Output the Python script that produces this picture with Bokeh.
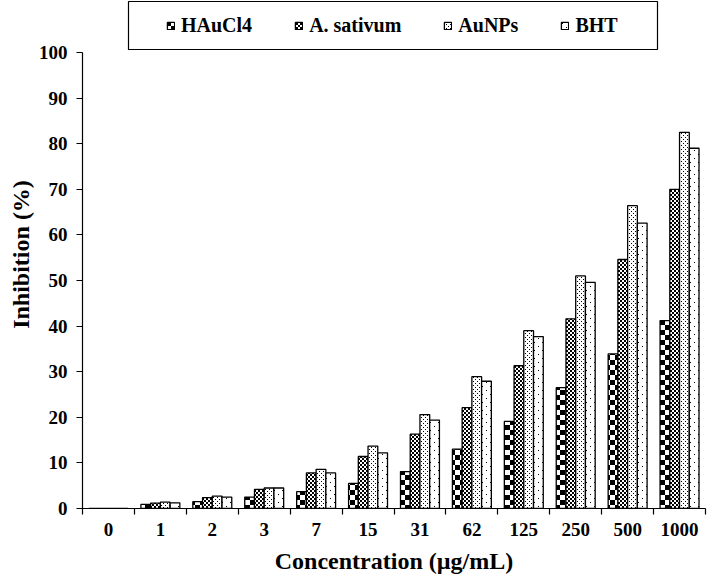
import zlib
import struct
import base64
import numpy as np
from bokeh.plotting import figure
from bokeh.models import (Range1d, FixedTicker, LinearAxis, Legend, LegendItem,
                          ImageURLTexture, BoxAnnotation)
from bokeh.core.properties import value
from bokeh.embed import file_html
from bokeh.resources import INLINE

# ---- data ----
concentrations = ["0", "1", "2", "3", "7", "15", "31", "62", "125", "250", "500", "1000"]
series_names = ["HAuCl4", "A. sativum", "AuNPs", "BHT"]
haucl4 = [0, 0.9, 1.5, 2.5, 3.7, 5.5, 8.1, 13.0, 19.1, 26.5, 33.9, 41.2]
a_sativum = [0, 1.2, 2.4, 4.2, 7.8, 11.4, 16.3, 22.1, 31.3, 41.6, 54.6, 70.0]
aunps = [0, 1.4, 2.7, 4.5, 8.6, 13.7, 20.6, 28.9, 39.0, 51.0, 66.4, 82.5]
bht = [0, 1.25, 2.5, 4.5, 7.8, 12.2, 19.4, 27.9, 37.7, 49.6, 62.6, 79.0]
y_ticks = [0, 10, 20, 30, 40, 50, 60, 70, 80, 90, 100]

series_values = [haucl4, a_sativum, aunps, bht]

FONT = "Liberation Serif"


# ---- fill textures (small PNG tiles) ----
def png_tile(size, black):
    raw = b""
    for y in range(size):
        row = bytearray([0])
        for x in range(size):
            row += bytes([0, 0, 0, 255]) if black(x, y) else bytes([255, 255, 255, 0])
        raw += bytes(row)

    def chunk(tag, data):
        return (struct.pack(">I", len(data)) + tag + data +
                struct.pack(">I", zlib.crc32(tag + data) & 0xffffffff))

    png = (b"\x89PNG\r\n\x1a\n" +
           chunk(b"IHDR", struct.pack(">IIBBBBB", size, size, 8, 6, 0, 0, 0)) +
           chunk(b"IDAT", zlib.compress(raw)) + chunk(b"IEND", b""))
    return "data:image/png;base64," + base64.b64encode(png).decode()


tiles = {
    "chkbig": png_tile(10, lambda x, y: (x < 5) == (y < 5)),
    "chksmall": png_tile(4, lambda x, y: (x < 2) == (y < 2)),
    "dotdense": png_tile(4, lambda x, y: (x, y) in ((1, 1), (3, 3))),
    "dotsparse": png_tile(8, lambda x, y: (x, y) in ((2, 2), (6, 6))),
}
pattern_names = ["chkbig", "chksmall", "dotdense", "dotsparse"]

Y_TOP = 111.4  # room above 100 for the legend box

p = figure(width=707, height=588, output_backend="svg", toolbar_location=None,
           x_range=Range1d(0, len(concentrations)), y_range=Range1d(0, Y_TOP),
           x_axis_type=None, y_axis_type=None,
           min_border_left=82, min_border_right=2, min_border_top=0, min_border_bottom=80)
p.outline_line_color = None
p.background_fill_color = "white"

n = len(concentrations)
centers = np.arange(n) + 0.5
offsets = [-0.28125, -0.09375, 0.09375, 0.28125]
bar_w = 0.1875

items = []
for name, vals, off, pat in zip(series_names, series_values, offsets, pattern_names):
    tex = ImageURLTexture(url=tiles[pat])
    r = p.vbar(x=centers + off, top=vals, bottom=0, width=bar_w,
               fill_color="white", line_color="black", line_width=1.3,
               hatch_pattern=value(pat), hatch_extra={pat: tex},
               hatch_color="black")
    items.append(LegendItem(label=name, renderers=[r]))

# x axis: labels at category centres, ticks at category boundaries
xaxis = LinearAxis(
    ticker=FixedTicker(ticks=list(centers), minor_ticks=list(range(n + 1))),
    major_label_overrides={float(c): lab for c, lab in zip(centers, concentrations)},
    major_tick_out=0, major_tick_in=0,
    minor_tick_out=6, minor_tick_in=0, minor_tick_line_color="black", minor_tick_line_width=1.2,
    axis_line_color="black", axis_line_width=1.2,
    major_label_standoff=8,
    major_label_text_font=FONT, major_label_text_font_style="bold",
    major_label_text_font_size="19px", major_label_text_color="black",
    axis_label="Concentration (µg/mL)", axis_label_standoff=9,
    axis_label_text_font=FONT, axis_label_text_font_style="bold",
    axis_label_text_font_size="24px", axis_label_text_color="black")
p.add_layout(xaxis, "below")

yaxis = LinearAxis(
    ticker=FixedTicker(ticks=y_ticks), bounds=(0, 100),
    major_tick_out=6, major_tick_in=0, minor_tick_out=0, minor_tick_in=0,
    major_tick_line_color="black", major_tick_line_width=1.2,
    axis_line_color="black", axis_line_width=1.2,
    major_label_standoff=9,
    major_label_text_font=FONT, major_label_text_font_style="bold",
    major_label_text_font_size="19px", major_label_text_color="black",
    axis_label="Inhibition (%)", axis_label_standoff=2,
    axis_label_text_font=FONT, axis_label_text_font_style="bold",
    axis_label_text_font_size="24px", axis_label_text_color="black")
p.add_layout(yaxis, "left")

# legend frame
box = BoxAnnotation(left=46, right=575, bottom=459, top=507,
                    left_units="screen", right_units="screen",
                    top_units="screen", bottom_units="screen",
                    fill_color=None, fill_alpha=0, line_color="black", line_width=1.2,
                    line_alpha=1)
p.add_layout(box)

legend = Legend(items=items, location=(84, 471), orientation="horizontal",
                glyph_width=9, glyph_height=9, label_standoff=6, spacing=42,
                padding=8, margin=0, border_line_color=None, background_fill_alpha=0,
                label_text_font=FONT, label_text_font_style="bold",
                label_text_font_size="20px", label_text_color="black")
p.add_layout(legend, "center")

open("out.html", "w").write(file_html(p, INLINE))
